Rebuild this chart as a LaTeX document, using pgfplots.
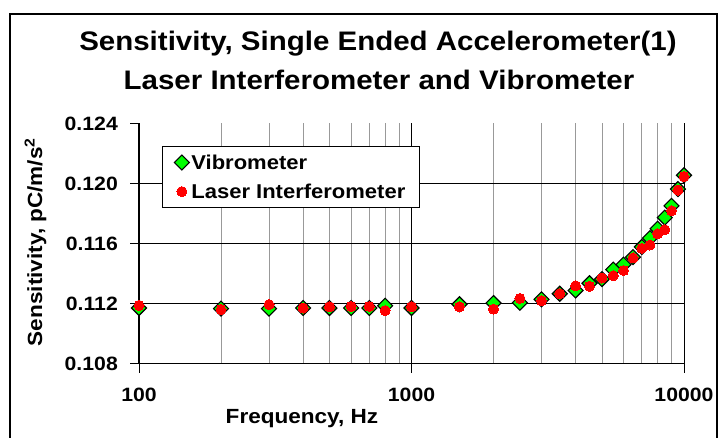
\documentclass[border=0pt]{standalone}
\usepackage{pgfplots}
\pgfplotsset{compat=1.18}
\usepackage{fontspec}
\setmainfont{Liberation Sans}[FakeStretch=1.1]
\pgfplotstableread{
f s
100 0.11170
200 0.11166
300 0.11166
400 0.11170
500 0.11170
600 0.11170
700 0.11170
800 0.11185
1000 0.11170
1500 0.11195
2000 0.11203
2500 0.11205
3000 0.11228
3500 0.11265
4000 0.11287
4500 0.11335
5000 0.11363
5500 0.11426
6000 0.11459
6500 0.11509
7000 0.11577
7500 0.11636
8000 0.11698
8500 0.11773
9000 0.11851
9500 0.11963
10000 0.12055
}\vibro
\pgfplotstableread{
f s
100 0.11187
200 0.11160
300 0.11193
400 0.11170
500 0.11177
600 0.11180
700 0.11180
800 0.11153
1000 0.11177
1500 0.11178
2000 0.11163
2500 0.11234
3000 0.11219
3500 0.11265
4000 0.11318
4500 0.11315
5000 0.11370
5500 0.11385
6000 0.11420
6500 0.11504
7000 0.11568
7500 0.11590
8000 0.11664
8500 0.11692
9000 0.11819
9500 0.11956
10000 0.12047
}\laser
\begin{document}
\begin{tikzpicture}[x=1pt,y=1pt]
\clip (0,0) rectangle (721,437);
\fill[white] (0,0) rectangle (721,437);
\draw[line width=2pt] (10,-10) rectangle (717,423);
\node[font=\bfseries\fontsize{26.8}{30}\selectfont, anchor=base, inner sep=0pt] at (378,386) {Sensitivity, Single Ended Accelerometer(1)};
\node[font=\bfseries\fontsize{26.8}{30}\selectfont, anchor=base, inner sep=0pt] at (379,347) {Laser Interferometer and Vibrometer};
\begin{axis}[
  at={(139pt,73.5pt)}, anchor=south west,
  width=545pt, height=240pt, scale only axis,
  xmode=log, xmin=100, xmax=10000,
  ymin=0.108, ymax=0.124,
  axis x line*=bottom, axis y line*=left,
  ytick={0.108,0.112,0.116,0.120,0.124},
  extra y ticks={0.112,0.116,0.120},
  extra y tick labels={},
  extra y tick style={grid=major, major tick length=0pt},
  xtick={100,1000,10000},
  minor xtick={200,300,400,500,600,700,800,900,2000,3000,4000,5000,6000,7000,8000,9000},
  log ticks with fixed point,
  /pgf/number format/1000 sep={},
  /pgf/number format/assume math mode=true,
  yticklabel style={/pgf/number format/fixed, /pgf/number format/fixed zerofill, /pgf/number format/precision=3},
  ticklabel style={font=\bfseries\fontsize{19.3}{22}\selectfont},
  xticklabel style={anchor=north, inner sep=0pt, yshift=-15pt},
  yticklabel style={anchor=east, inner sep=0pt, xshift=-12pt},
  tick align=outside,
  major tick length=9pt,
  minor tick length=0pt,
  tick style={black, line width=0.8pt},
  axis line style={black, line width=1.2pt},
  xmajorgrids=true, xminorgrids=true, ymajorgrids=false,
  major grid style={black, line width=0.8pt},
  minor grid style={gray!80, line width=0.8pt},
  xlabel={Frequency, Hz},
  ylabel={Sensitivity, pC/m/s\textsuperscript{2}},
  label style={font=\bfseries\fontsize{20.5}{24}\selectfont},
  xlabel style={at={(axis description cs:0.299,-0.231)}, anchor=center},
  ylabel style={at={(axis description cs:-0.19,0.506)}, anchor=center},
  legend style={at={(axis description cs:0.042,0.906)}, anchor=north west,
    draw=black, line width=1pt, fill=white,
    font=\bfseries\fontsize{20}{22}\selectfont,
    inner xsep=12pt, inner ysep=6pt, row sep=9pt},
  legend cell align=left,
  legend image code/.code={\draw[mark repeat=2,mark phase=2,#1] plot coordinates {(0pt,0pt)(9pt,0pt)(18pt,0pt)};},
]
\addplot[only marks, mark=square*, mark size=5.3pt, mark options={rotate=45, fill={rgb,255:red,0;green,255;blue,0}, draw=black, line width=1.1pt}] table[x=f,y=s] {\vibro};
\addlegendentry{Vibrometer}
\addplot[only marks, mark=*, mark size=5pt, mark options={fill=red, draw=red, line width=0pt}] table[x=f,y=s] {\laser};
\addlegendentry{Laser Interferometer}
\end{axis}
\end{tikzpicture}
\end{document}
